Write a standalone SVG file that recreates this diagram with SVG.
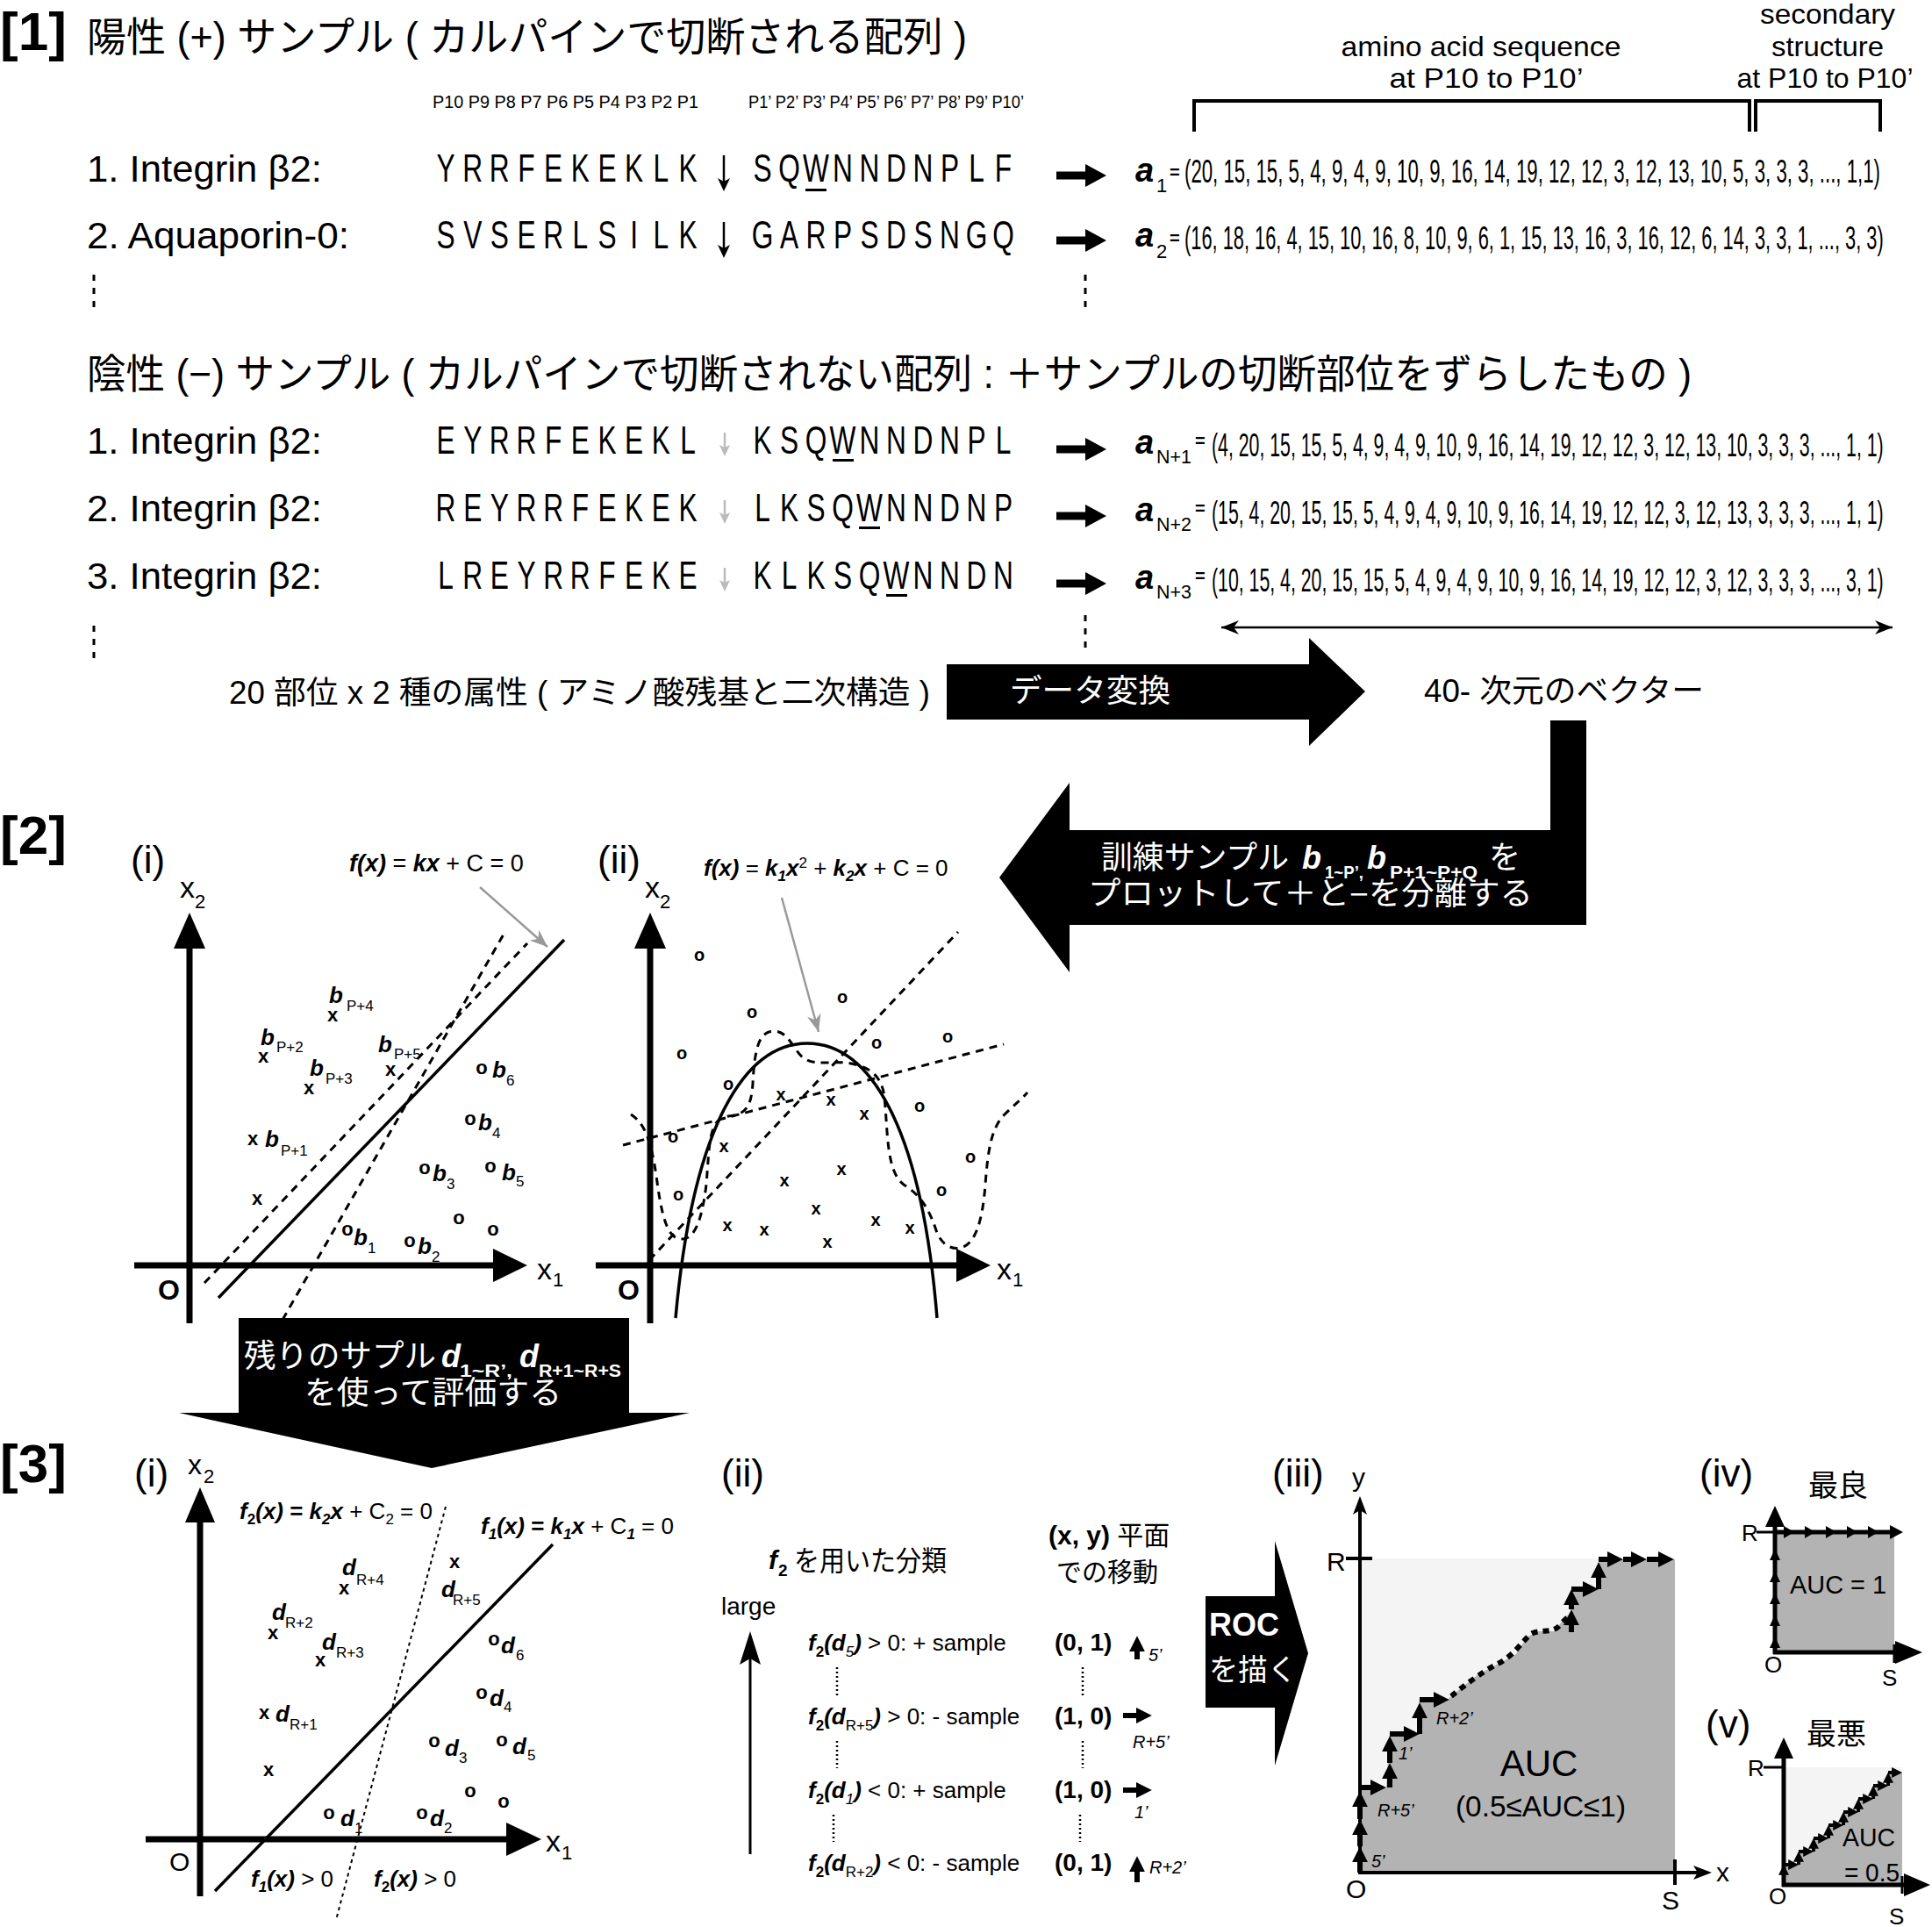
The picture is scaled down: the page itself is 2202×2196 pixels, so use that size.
<svg xmlns="http://www.w3.org/2000/svg" width="2202" height="2196" viewBox="0 0 2202 2196">
<style>
text{font-family:"Liberation Sans","Noto Sans CJK JP",sans-serif;fill:#000}
.b{font-weight:bold}.i{font-style:italic}.bi{font-weight:bold;font-style:italic}
.w{fill:#fff}
.hd{font-weight:bold;font-size:62px}
.pn{font-size:44px}
.row{font-size:42px}
.seq{font-size:44px;text-anchor:middle}
.vec{font-size:36px}
.mk{font-weight:bold;font-size:22px;text-anchor:middle}
.mk2{font-weight:bold;font-size:20px;text-anchor:middle}
.lb{font-weight:bold;font-style:italic;font-size:26px}
.sb{font-size:17px}
.ax{stroke:#000;stroke-width:7;fill:none}
.sl{stroke:#000;stroke-width:3.5;fill:none}
.dl{stroke:#000;stroke-width:3;fill:none;stroke-dasharray:9 7}
.ga{stroke:#999;stroke-width:2.5;fill:none;marker-end:url(#gm)}
.st{stroke:#000;stroke-width:6;fill:none;marker-end:url(#ah)}
.st2{stroke:#000;stroke-width:4;fill:none;marker-end:url(#ah)}
.dots{stroke:#000;stroke-width:3;stroke-dasharray:7 8}
.dt{stroke:#000;stroke-width:2.5;stroke-dasharray:2 3}
</style>
<defs>
<marker id="ah" viewBox="0 0 10 10" refX="4" refY="5" markerWidth="3" markerHeight="3" orient="auto"><path d="M0,0 L10,5 L0,10 z"/></marker>
<marker id="gm" viewBox="0 0 10 10" refX="10" refY="5" markerWidth="8" markerHeight="8" orient="auto"><path d="M0,1 L10,5 L0,9 L3,5 z" fill="#999"/></marker>
<marker id="tm" viewBox="0 0 10 10" refX="10" refY="5" markerWidth="8" markerHeight="8" orient="auto-start-reverse"><path d="M0,1 L10,5 L0,9 L3,5 z"/></marker>
<path id="harrow" d="M0,-4.5 L33,-4.5 L33,-13 L57,0 L33,13 L33,4.5 L0,4.5 Z"/>
</defs>
<rect width="2202" height="2196" fill="#fff"/>

<!-- ===== Section 1 ===== -->
<g id="sec1-header">
<text class="hd" x="0" y="57">[1]</text>
<text x="99" y="58" font-size="46" textLength="1003" lengthAdjust="spacingAndGlyphs">陽性 (+) サンプル ( カルパインで切断される配列 )</text>
<text x="493" y="123" font-size="20" textLength="303" lengthAdjust="spacingAndGlyphs">P10 P9 P8 P7 P6 P5 P4 P3 P2 P1</text>
<text x="853" y="123" font-size="20" textLength="314" lengthAdjust="spacingAndGlyphs">P1’ P2’ P3’ P4’ P5’ P6’ P7’ P8’ P9’ P10’</text>
</g>

<g id="bracket-labels">
<text x="1688" y="64" font-size="32" text-anchor="middle" textLength="319" lengthAdjust="spacingAndGlyphs">amino acid sequence</text>
<text x="1694" y="100" font-size="32" text-anchor="middle" textLength="221" lengthAdjust="spacingAndGlyphs">at P10 to P10’</text>
<text x="2083" y="27" font-size="32" text-anchor="middle" textLength="154" lengthAdjust="spacingAndGlyphs">secondary</text>
<text x="2083" y="64" font-size="32" text-anchor="middle" textLength="128" lengthAdjust="spacingAndGlyphs">structure</text>
<text x="2080" y="100" font-size="32" text-anchor="middle" textLength="201" lengthAdjust="spacingAndGlyphs">at P10 to P10’</text>
<path d="M1361,150 V115 H1994 V150 M2001,150 V115 H2143 V150" stroke="#000" stroke-width="4" fill="none"/>
</g>

<g id="pos-row1">
<text class="row" x="99" y="207" textLength="268" lengthAdjust="spacingAndGlyphs">1. Integrin β2:</text>
<text class="seq" transform="scale(0.72,1)" x="705.6 748.2 790.7 833.3 875.9 918.5 961.1 1003.7 1046.3 1088.9" y="207">YRRFEKEKLK</text>
<text class="seq" transform="scale(0.72,1)" x="1206.9 1249.3 1291.7 1334.0 1376.4 1418.8 1461.1 1503.5 1545.8 1588.2" y="207">SQWNNDNPLF</text>
<rect x="918" y="215" width="24" height="3"/>
<path d="M825,177 V214" stroke="#000" stroke-width="2.5"/><path d="M818,203 L825,218 L832,203 L825,207 Z"/>
<text class="bi" x="1294" y="207" font-size="38">a</text>
<text x="1318" y="219" font-size="22">1</text>
<text class="b" x="1333" y="203" font-size="20">=</text>
<text class="vec" transform="scale(0.62,1)" x="2177.4" y="208" textLength="1279" lengthAdjust="spacingAndGlyphs">(20, 15, 15, 5, 4, 9, 4, 9, 10, 9, 16, 14, 19, 12, 12, 3, 12, 13, 10, 5, 3, 3, 3, ..., 1,1)</text>
</g>

<g id="pos-row2">
<text class="row" x="99" y="283" textLength="299" lengthAdjust="spacingAndGlyphs">2. Aquaporin-0:</text>
<text class="seq" transform="scale(0.72,1)" x="705.6 748.2 790.7 833.3 875.9 918.5 961.1 1003.7 1046.3 1088.9" y="283">SVSERLSILK</text>
<text class="seq" transform="scale(0.72,1)" x="1206.9 1249.3 1291.7 1334.0 1376.4 1418.8 1461.1 1503.5 1545.8 1588.2" y="283">GARPSDSNGQ</text>
<path d="M825,253 V290" stroke="#000" stroke-width="2.5"/><path d="M818,279 L825,294 L832,279 L825,283 Z"/>
<text class="bi" x="1294" y="281" font-size="38">a</text>
<text x="1318" y="294" font-size="22">2</text>
<text class="b" x="1333" y="278" font-size="20">=</text>
<text class="vec" transform="scale(0.62,1)" x="2177.4" y="284" textLength="1285" lengthAdjust="spacingAndGlyphs">(16, 18, 16, 4, 15, 10, 16, 8, 10, 9, 6, 1, 15, 13, 16, 3, 16, 12, 6, 14, 3, 3, 1, ..., 3, 3)</text>
</g>
<line class="dots" x1="107" y1="313" x2="107" y2="351"/>
<line class="dots" x1="1237" y1="313" x2="1237" y2="351"/>

<g id="neg-header">
<text x="99" y="442" font-size="46" textLength="1829" lengthAdjust="spacingAndGlyphs">陰性 (−) サンプル ( カルパインで切断されない配列 : ＋サンプルの切断部位をずらしたもの )</text>
</g>

<g id="neg-row1">
<text class="row" x="99" y="517" textLength="268" lengthAdjust="spacingAndGlyphs">1. Integrin β2:</text>
<text class="seq" transform="scale(0.72,1)" x="705.6 748.2 790.7 833.3 875.9 918.5 961.1 1003.7 1046.3 1088.9" y="517">EYRRFEKEKL</text>
<text class="seq" transform="scale(0.72,1)" x="1206.9 1249.3 1291.7 1334.0 1376.4 1418.8 1461.1 1503.5 1545.8 1588.2" y="517">KSQWNNDNPL</text>
<rect x="949" y="523" width="24" height="3"/>
<path d="M826,493 V516" stroke="#bbb" stroke-width="2.5"/><path d="M820,507 L826,520 L832,507 L826,510 Z" fill="#bbb"/>
<text class="bi" x="1294" y="517" font-size="38">a</text>
<text x="1318" y="528" font-size="22" textLength="40" lengthAdjust="spacingAndGlyphs">N+1</text>
<text class="b" x="1362" y="509" font-size="20">=</text>
<text class="vec" transform="scale(0.62,1)" x="2227.4" y="520" textLength="1235" lengthAdjust="spacingAndGlyphs">(4, 20, 15, 15, 5, 4, 9, 4, 9, 10, 9, 16, 14, 19, 12, 12, 3, 12, 13, 10, 3, 3, 3, ..., 1, 1)</text>
</g>

<g id="neg-row2">
<text class="row" x="99" y="594" textLength="268" lengthAdjust="spacingAndGlyphs">2. Integrin β2:</text>
<text class="seq" transform="scale(0.72,1)" x="705.6 748.2 790.7 833.3 875.9 918.5 961.1 1003.7 1046.3 1088.9" y="594">REYRRFEKEK</text>
<text class="seq" transform="scale(0.72,1)" x="1206.9 1249.3 1291.7 1334.0 1376.4 1418.8 1461.1 1503.5 1545.8 1588.2" y="594">LKSQWNNDNP</text>
<rect x="979" y="600" width="24" height="3"/>
<path d="M826,570 V593" stroke="#bbb" stroke-width="2.5"/><path d="M820,584 L826,597 L832,584 L826,587 Z" fill="#bbb"/>
<text class="bi" x="1294" y="594" font-size="38">a</text>
<text x="1318" y="605" font-size="22" textLength="40" lengthAdjust="spacingAndGlyphs">N+2</text>
<text class="b" x="1362" y="586" font-size="20">=</text>
<text class="vec" transform="scale(0.62,1)" x="2227.4" y="597" textLength="1235" lengthAdjust="spacingAndGlyphs">(15, 4, 20, 15, 15, 5, 4, 9, 4, 9, 10, 9, 16, 14, 19, 12, 12, 3, 12, 13, 3, 3, 3, ..., 1, 1)</text>
</g>

<g id="neg-row3">
<text class="row" x="99" y="671" textLength="268" lengthAdjust="spacingAndGlyphs">3. Integrin β2:</text>
<text class="seq" transform="scale(0.72,1)" x="705.6 748.2 790.7 833.3 875.9 918.5 961.1 1003.7 1046.3 1088.9" y="671">LREYRRFEKE</text>
<text class="seq" transform="scale(0.72,1)" x="1206.9 1249.3 1291.7 1334.0 1376.4 1418.8 1461.1 1503.5 1545.8 1588.2" y="671">KLKSQWNNDN</text>
<rect x="1010" y="677" width="24" height="3"/>
<path d="M826,647 V670" stroke="#bbb" stroke-width="2.5"/><path d="M820,661 L826,674 L832,661 L826,664 Z" fill="#bbb"/>
<text class="bi" x="1294" y="671" font-size="38">a</text>
<text x="1318" y="682" font-size="22" textLength="40" lengthAdjust="spacingAndGlyphs">N+3</text>
<text class="b" x="1362" y="663" font-size="20">=</text>
<text class="vec" transform="scale(0.62,1)" x="2227.4" y="674" textLength="1235" lengthAdjust="spacingAndGlyphs">(10, 15, 4, 20, 15, 15, 5, 4, 9, 4, 9, 10, 9, 16, 14, 19, 12, 12, 3, 12, 3, 3, 3, ..., 3, 1)</text>
</g>
<line class="dots" x1="107" y1="713" x2="107" y2="751"/>
<line class="dots" x1="1237" y1="701" x2="1237" y2="739"/>

<g id="attr-text">
<text x="261" y="802" font-size="36" textLength="799" lengthAdjust="spacingAndGlyphs">20 部位 x 2 種の属性 ( アミノ酸残基と二次構造 )</text>
</g>
<g id="vec40-text">
<text x="1623" y="800" font-size="36" textLength="319" lengthAdjust="spacingAndGlyphs">40- 次元のベクター</text>
</g>

<!-- block arrows -->
<g id="arrow-transform">
<polygon points="1079,757 1492,757 1492,727 1556,788 1492,850 1492,820 1079,820"/>
<text class="w" x="1151" y="800" font-size="36" textLength="183" lengthAdjust="spacingAndGlyphs">データ変換</text>
</g>
<g id="arrow-train">
<polygon points="1767,821 1808,821 1808,1054 1219,1054 1219,1108 1139,1000 1219,892 1219,946 1767,946"/>
<text class="w" x="1255" y="990" font-size="36" textLength="214" lengthAdjust="spacingAndGlyphs">訓練サンプル</text>
<text class="w bi" x="1484" y="990" font-size="36">b</text>
<text class="w b" x="1510" y="1001" font-size="20" textLength="44" lengthAdjust="spacingAndGlyphs">1~P’,</text>
<text class="w bi" x="1558" y="990" font-size="36">b</text>
<text class="w b" x="1584" y="1001" font-size="20" textLength="100" lengthAdjust="spacingAndGlyphs">P+1~P+Q</text>
<text class="w" x="1697" y="990" font-size="36">を</text>
<text class="w" x="1240" y="1031" font-size="36" textLength="507" lengthAdjust="spacingAndGlyphs">プロットして＋と−を分離する</text>
</g>

<!-- ===== Section 2 ===== -->
<g id="sec2-header"><text class="hd" x="0" y="973">[2]</text></g>

<g id="plot2-i">
<text class="pn" x="149" y="995">(i)</text>
<text x="205" y="1023" font-size="34">x</text><text x="222" y="1035" font-size="22">2</text>
<text x="612" y="1458" font-size="34">x</text><text x="630" y="1466" font-size="22">1</text>
<text class="b" x="180" y="1481" font-size="32">O</text>
<line class="ax" x1="216" y1="1508" x2="216" y2="1076"/>
<polygon points="216,1040 234,1081 198,1081"/>
<line class="ax" x1="153" y1="1442" x2="565" y2="1442"/>
<polygon points="601,1442 562,1423 562,1461"/>
<line class="sl" x1="249" y1="1479" x2="643" y2="1071"/>
<line class="dl" x1="233" y1="1462" x2="601" y2="1075"/>
<line class="dl" x1="322" y1="1504" x2="575" y2="1063"/>
<text x="398" y="993" font-size="27"><tspan class="bi">f(x)</tspan> = <tspan class="bi">kx</tspan> + C = 0</text>
<line class="ga" x1="547" y1="1011" x2="624" y2="1079"/>
<g class="mk">
<text x="379" y="1164">x</text><text x="300" y="1211">x</text><text x="352" y="1247">x</text><text x="445" y="1226">x</text><text x="288" y="1305">x</text><text x="293" y="1373">x</text>
<text x="549" y="1224">o</text><text x="536" y="1282">o</text><text x="484" y="1338">o</text><text x="559" y="1336">o</text><text x="523" y="1395">o</text><text x="562" y="1408">o</text><text x="396" y="1408">o</text><text x="467" y="1421">o</text>
</g>
<g class="lb">
<text x="375" y="1143">b</text><text x="297" y="1191">b</text><text x="353" y="1226">b</text><text x="431" y="1199">b</text><text x="302" y="1307">b</text>
<text x="561" y="1228">b</text><text x="545" y="1288">b</text><text x="493" y="1346">b</text><text x="572" y="1345">b</text><text x="403" y="1419">b</text><text x="476" y="1429">b</text>
</g>
<g class="sb">
<text x="395" y="1152">P+4</text><text x="315" y="1199">P+2</text><text x="371" y="1235">P+3</text><text x="449" y="1207">P+5</text><text x="320" y="1317">P+1</text>
<text x="577" y="1237">6</text><text x="561" y="1297">4</text><text x="509" y="1355">3</text><text x="588" y="1352">5</text><text x="419" y="1428">1</text><text x="492" y="1438">2</text>
</g>
</g>

<g id="plot2-ii">
<text class="pn" x="681" y="995">(ii)</text>
<text x="735" y="1023" font-size="34">x</text><text x="752" y="1035" font-size="22">2</text>
<text x="1136" y="1458" font-size="34">x</text><text x="1154" y="1466" font-size="22">1</text>
<text class="b" x="704" y="1481" font-size="32">O</text>
<line class="ax" x1="741" y1="1508" x2="741" y2="1076"/>
<polygon points="741,1040 759,1081 723,1081"/>
<line class="ax" x1="679" y1="1442" x2="1093" y2="1442"/>
<polygon points="1129,1442 1090,1423 1090,1461"/>
<path class="sl" d="M770,1502 C790,1280 850,1189 920,1189 C990,1189 1050,1280 1068,1502"/>
<line class="dl" x1="740" y1="1436" x2="1092" y2="1062"/>
<line class="dl" x1="710" y1="1305" x2="1144" y2="1190"/>
<path class="dl" d="M719,1270 C735,1280 742,1300 748,1340 C754,1385 760,1410 775,1412 C792,1414 800,1390 805,1350 C809,1300 808,1275 830,1272 C850,1270 856,1262 858,1235 C860,1195 865,1175 882,1175 C900,1175 905,1200 918,1207 C932,1215 950,1208 970,1212 C990,1216 1005,1225 1008,1250 C1012,1290 1010,1335 1030,1350 C1050,1362 1060,1380 1068,1405 C1075,1420 1085,1424 1095,1422 C1112,1418 1120,1390 1123,1350 C1126,1310 1130,1285 1145,1270 C1155,1260 1165,1252 1171,1245"/>
<text x="802" y="998" font-size="26"><tspan class="bi">f(x)</tspan> = <tspan class="bi">k</tspan><tspan class="bi" font-size="17" dy="6">1</tspan><tspan class="bi" dy="-6">x</tspan><tspan font-size="17" dy="-9">2</tspan><tspan dy="9"> + </tspan><tspan class="bi">k</tspan><tspan class="bi" font-size="17" dy="6">2</tspan><tspan class="bi" dy="-6">x</tspan> + C = 0</text>
<line class="ga" x1="891" y1="1023" x2="933" y2="1176"/>
<g class="mk2">
<text x="797" y="1095">o</text><text x="960" y="1143">o</text><text x="857" y="1160">o</text><text x="1080" y="1188">o</text><text x="999" y="1195">o</text><text x="777" y="1207">o</text><text x="830" y="1242">o</text><text x="1048" y="1267">o</text><text x="767" y="1302">o</text><text x="1106" y="1325">o</text><text x="1073" y="1363">o</text><text x="773" y="1368">o</text>
<text x="890" y="1254">x</text><text x="947" y="1260">x</text><text x="985" y="1276">x</text><text x="825" y="1313">x</text><text x="959" y="1339">x</text><text x="894" y="1352">x</text><text x="930" y="1384">x</text><text x="998" y="1397">x</text><text x="1037" y="1406">x</text><text x="829" y="1403">x</text><text x="871" y="1408">x</text><text x="943" y="1422">x</text>
</g>
</g>

<g id="arrow-eval">
<polygon points="272,1502 717,1502 717,1610 786,1610 492,1673 204,1610 272,1610"/>
<text class="w" x="278" y="1558" font-size="36" textLength="219" lengthAdjust="spacingAndGlyphs">残りのサプル</text>
<text class="w bi" x="503" y="1558" font-size="36">d</text>
<text class="w b" x="524" y="1569" font-size="20" textLength="60" lengthAdjust="spacingAndGlyphs">1~R’,</text>
<text class="w bi" x="592" y="1558" font-size="36">d</text>
<text class="w b" x="614" y="1569" font-size="20" textLength="94" lengthAdjust="spacingAndGlyphs">R+1~R+S</text>
<text class="w" x="347" y="1600" font-size="36" textLength="293" lengthAdjust="spacingAndGlyphs">を使って評価する</text>
</g>

<!-- ===== Section 3 ===== -->
<g id="sec3-header"><text class="hd" x="0" y="1689">[3]</text></g>

<g id="plot3-i">
<text class="pn" x="153" y="1694">(i)</text>
<text x="214" y="1680" font-size="32">x</text><text x="232" y="1690" font-size="22">2</text>
<text x="622" y="2110" font-size="34">x</text><text x="640" y="2119" font-size="22">1</text>
<text x="193" y="2132" font-size="30">O</text>
<line class="ax" x1="228" y1="2161" x2="228" y2="1730"/>
<polygon points="228,1695 245,1735 211,1735"/>
<line class="ax" x1="166" y1="2096" x2="580" y2="2096"/>
<polygon points="617,2096 577,2077 577,2115"/>
<line class="sl" x1="245" y1="2155" x2="630" y2="1760"/>
<line x1="508" y1="1717" x2="383" y2="2188" stroke="#000" stroke-width="2" stroke-dasharray="4 4"/>
<text x="273" y="1731" font-size="26"><tspan class="bi">f</tspan><tspan class="b" font-size="17" dy="6">2</tspan><tspan class="bi" dy="-6">(x)</tspan><tspan class="b"> = </tspan><tspan class="bi">k</tspan><tspan class="bi" font-size="17" dy="6">2</tspan><tspan class="bi" dy="-6">x</tspan> + C<tspan font-size="17" dy="6">2</tspan><tspan dy="-6"> = 0</tspan></text>
<text x="548" y="1748" font-size="26"><tspan class="bi">f</tspan><tspan class="bi" font-size="17" dy="6">1</tspan><tspan class="bi" dy="-6">(x)</tspan><tspan class="b"> = </tspan><tspan class="bi">k</tspan><tspan class="bi" font-size="17" dy="6">1</tspan><tspan class="bi" dy="-6">x</tspan> + C<tspan class="bi" font-size="17" dy="6">1</tspan><tspan dy="-6"> = 0</tspan></text>
<text x="286" y="2150" font-size="26"><tspan class="bi">f</tspan><tspan class="bi" font-size="17" dy="6">1</tspan><tspan class="bi" dy="-6">(x)</tspan> &gt; 0</text>
<text x="426" y="2150" font-size="26"><tspan class="bi">f</tspan><tspan class="b" font-size="17" dy="6">2</tspan><tspan class="bi" dy="-6">(x)</tspan> &gt; 0</text>
<g class="mk">
<text x="392" y="1817">x</text><text x="311" y="1868">x</text><text x="365" y="1899">x</text><text x="518" y="1787">x</text><text x="301" y="1959">x</text><text x="306" y="2024">x</text>
<text x="563" y="1875">o</text><text x="549" y="1936">o</text><text x="495" y="1991">o</text><text x="572" y="1990">o</text><text x="536" y="2048">o</text><text x="574" y="2060">o</text><text x="375" y="2073">o</text><text x="481" y="2073">o</text>
</g>
<g class="lb">
<text x="390" y="1795">d</text><text x="310" y="1846">d</text><text x="367" y="1880">d</text><text x="503" y="1820">d</text><text x="314" y="1962">d</text>
<text x="571" y="1884">d</text><text x="558" y="1944">d</text><text x="507" y="2001">d</text><text x="584" y="1999">d</text><text x="388" y="2081">d</text><text x="490" y="2081">d</text>
</g>
<g class="sb">
<text x="406" y="1806">R+4</text><text x="325" y="1855">R+2</text><text x="383" y="1889">R+3</text><text x="516" y="1829">R+5</text><text x="330" y="1971">R+1</text>
<text x="588" y="1892">6</text><text x="574" y="1951">4</text><text x="523" y="2009">3</text><text x="601" y="2006">5</text><text x="404" y="2089">1</text><text x="506" y="2089">2</text>
</g>
</g>

<g id="panel3-ii">
<text class="pn" x="822" y="1694">(ii)</text>
<text class="bi" x="876" y="1788" font-size="30">f</text><text class="b" x="887" y="1796" font-size="19">2</text>
<text x="905" y="1790" font-size="32" textLength="174" lengthAdjust="spacingAndGlyphs">を用いた分類</text>
<text x="1195" y="1760" font-size="30"><tspan class="b">(x, y)</tspan> 平面</text>
<text x="1204" y="1802" font-size="30" textLength="116" lengthAdjust="spacingAndGlyphs">での移動</text>
<text x="822" y="1840" font-size="28">large</text>
<line x1="855" y1="2113" x2="855" y2="1885" stroke="#000" stroke-width="3"/>
<polygon points="855,1859 867,1897 855,1890 843,1897"/>
<text x="921" y="1881" font-size="26"><tspan class="bi">f</tspan><tspan class="b" font-size="17" dy="7">2</tspan><tspan class="bi" dy="-7">(d</tspan><tspan class="i" font-size="17" dy="7">5</tspan><tspan class="bi" dy="-7">)</tspan> &gt; 0: + sample</text>
<text x="921" y="1965" font-size="26"><tspan class="bi">f</tspan><tspan class="b" font-size="17" dy="7">2</tspan><tspan class="bi" dy="-7">(d</tspan><tspan font-size="17" dy="7">R+5</tspan><tspan class="bi" dy="-7">)</tspan> &gt; 0: - sample</text>
<text x="921" y="2049" font-size="26"><tspan class="bi">f</tspan><tspan class="b" font-size="17" dy="7">2</tspan><tspan class="bi" dy="-7">(d</tspan><tspan class="i" font-size="17" dy="7">1</tspan><tspan class="bi" dy="-7">)</tspan> &lt; 0: + sample</text>
<text x="921" y="2132" font-size="26"><tspan class="bi">f</tspan><tspan class="b" font-size="17" dy="7">2</tspan><tspan class="bi" dy="-7">(d</tspan><tspan font-size="17" dy="7">R+2</tspan><tspan class="bi" dy="-7">)</tspan> &lt; 0: - sample</text>
<g class="b" font-size="28">
<text x="1202" y="1881">(0, 1)</text>
<text x="1202" y="1965">(1, 0)</text>
<text x="1202" y="2049">(1, 0)</text>
<text x="1202" y="2132">(0, 1)</text>
</g>
<line class="dt" x1="954" y1="1900" x2="954" y2="1932"/><line class="dt" x1="1234" y1="1900" x2="1234" y2="1932"/>
<line class="dt" x1="954" y1="1984" x2="954" y2="2015"/><line class="dt" x1="1234" y1="1984" x2="1234" y2="2015"/>
<line class="dt" x1="950" y1="2068" x2="950" y2="2099"/><line class="dt" x1="1231" y1="2068" x2="1231" y2="2099"/>
<line class="st" x1="1296" y1="1891" x2="1296" y2="1875"/>
<line class="st" x1="1280" y1="1955" x2="1302" y2="1955"/>
<line class="st" x1="1280" y1="2040" x2="1302" y2="2040"/>
<line class="st" x1="1296" y1="2145" x2="1296" y2="2126"/>
<g class="i" font-size="20">
<text x="1309" y="1893">5’</text><text x="1291" y="1992">R+5’</text><text x="1293" y="2072">1’</text><text x="1310" y="2135">R+2’</text>
</g>
</g>

<g id="arrow-roc">
<polygon points="1374,1819 1453,1819 1453,1756 1491,1884 1453,2012 1453,1946 1374,1946"/>
<text class="w b" x="1378" y="1864" font-size="36">ROC</text>
<text class="w" x="1378" y="1915" font-size="34" textLength="100" lengthAdjust="spacingAndGlyphs">を描く</text>
</g>

<g id="plot3-iii">
<text class="pn" x="1450" y="1694">(iii)</text>
<rect x="1550" y="1776" width="359" height="358" fill="#f4f4f4"/>
<polygon fill="#b3b3b3" points="1550,2134 1550,2037 1580,2037 1584,1976 1615,1976 1618,1937 1650,1937 1656,1931 1685,1908 1704,1898 1728,1885 1740,1866 1752,1859 1771,1859 1781,1847 1791,1836 1791,1811 1822,1811 1822,1777 1909,1777 1909,2134"/>
<line x1="1550" y1="2136" x2="1550" y2="1718" stroke="#000" stroke-width="4"/>
<polygon points="1550,1705 1558,1726 1550,1721 1542,1726"/>
<line x1="1550" y1="2134" x2="1938" y2="2134" stroke="#000" stroke-width="4"/>
<polygon points="1951,2134 1930,2126 1935,2134 1930,2142"/>
<line x1="1534" y1="1776" x2="1564" y2="1776" stroke="#000" stroke-width="4"/>
<line x1="1909" y1="2119" x2="1909" y2="2148" stroke="#000" stroke-width="4"/>
<text x="1512" y="1790" font-size="30">R</text>
<text x="1534" y="2163" font-size="30">O</text>
<text x="1894" y="2176" font-size="30">S</text>
<text x="1956" y="2144" font-size="30">x</text>
<text x="1541" y="1694" font-size="30">y</text>
<line class="st" x1="1550" y1="2134" x2="1550" y2="2115"/>
<line class="st" x1="1550" y1="2104" x2="1550" y2="2084"/>
<line class="st" x1="1550" y1="2073" x2="1550" y2="2052"/>
<line class="st" x1="1550" y1="2037" x2="1569" y2="2037"/>
<line class="st" x1="1584" y1="2037" x2="1584" y2="2020"/>
<line class="st" x1="1584" y1="2009" x2="1584" y2="1989"/>
<line class="st" x1="1584" y1="1976" x2="1607" y2="1976"/>
<line class="st" x1="1618" y1="1976" x2="1618" y2="1951"/>
<line class="st" x1="1618" y1="1937" x2="1641" y2="1937"/>
<path d="M1654,1933 C1670,1920 1690,1905 1705,1897 C1725,1888 1735,1870 1745,1862 C1755,1856 1770,1862 1778,1852 C1784,1845 1788,1842 1791,1840" stroke="#000" stroke-width="6" fill="none" stroke-dasharray="7 6"/>
<line class="st" x1="1791" y1="1860" x2="1791" y2="1845"/>
<line class="st" x1="1791" y1="1834" x2="1791" y2="1822"/>
<line class="st" x1="1791" y1="1811" x2="1811" y2="1811"/>
<line class="st" x1="1822" y1="1811" x2="1822" y2="1791"/>
<line class="st" x1="1822" y1="1777" x2="1839" y2="1777"/>
<line class="st" x1="1850" y1="1777" x2="1866" y2="1777"/>
<line class="st" x1="1877" y1="1777" x2="1897" y2="1777"/>
<g class="i" font-size="20">
<text x="1563" y="2128">5’</text><text x="1570" y="2070">R+5’</text><text x="1594" y="2005">1’</text><text x="1637" y="1965">R+2’</text>
</g>
<text x="1754" y="2024" font-size="42" text-anchor="middle">AUC</text>
<text x="1756" y="2070" font-size="34" text-anchor="middle" textLength="194" lengthAdjust="spacingAndGlyphs">(0.5≤AUC≤1)</text>
</g>

<g id="plot3-iv">
<text class="pn" x="1937" y="1694">(iv)</text>
<text x="2061" y="1705" font-size="34">最良</text>
<rect x="2023" y="1746" width="136" height="137" fill="#b3b3b3"/>
<line x1="2023" y1="1885" x2="2023" y2="1730" stroke="#000" stroke-width="5"/>
<polygon points="2023,1716 2034,1740 2012,1740"/>
<line x1="2021" y1="1883" x2="2168" y2="1883" stroke="#000" stroke-width="5"/>
<polygon points="2191,1883 2160,1870 2160,1896"/>
<line x1="2002" y1="1746" x2="2023" y2="1746" stroke="#000" stroke-width="3"/>
<line x1="2159" y1="1874" x2="2159" y2="1895" stroke="#000" stroke-width="3"/>
<g>
<polygon points="2023,1865 2029,1878 2017,1878"/><polygon points="2023,1840 2029,1853 2017,1853"/><polygon points="2023,1815 2029,1828 2017,1828"/><polygon points="2023,1790 2029,1803 2017,1803"/><polygon points="2023,1765 2029,1778 2017,1778"/>
</g>
<line x1="2023" y1="1746" x2="2156" y2="1746" stroke="#000" stroke-width="5"/>
<g>
<polygon points="2045,1746 2033,1739 2033,1753"/><polygon points="2069,1746 2057,1739 2057,1753"/><polygon points="2093,1746 2081,1739 2081,1753"/><polygon points="2117,1746 2105,1739 2105,1753"/><polygon points="2141,1746 2129,1739 2129,1753"/><polygon points="2169,1746 2154,1738 2154,1754"/>
</g>
<text x="1985" y="1756" font-size="26">R</text>
<text x="2011" y="1906" font-size="26">O</text>
<text x="2145" y="1921" font-size="26">S</text>
<text x="2040" y="1816" font-size="30" textLength="110" lengthAdjust="spacingAndGlyphs">AUC = 1</text>
</g>

<g id="plot3-v">
<text class="pn" x="1944" y="1980">(v)</text>
<text x="2059" y="1988" font-size="34">最悪</text>
<rect x="2033" y="2014" width="135" height="134" fill="#f4f4f4"/>
<polygon fill="#b3b3b3" points="2033,2148 2033,2140 2033,2125 2050,2125 2050,2110 2067,2110 2067,2095 2084,2095 2084,2080 2101,2080 2101,2065 2118,2065 2118,2050 2135,2050 2135,2035 2152,2035 2152,2020 2168,2020 2168,2148"/>
<line x1="2033" y1="2150" x2="2033" y2="1995" stroke="#000" stroke-width="5"/>
<polygon points="2033,1980 2044,2004 2022,2004"/>
<line x1="2031" y1="2148" x2="2175" y2="2148" stroke="#000" stroke-width="5"/>
<polygon points="2200,2148 2170,2135 2170,2161"/>
<line x1="2010" y1="2014" x2="2033" y2="2014" stroke="#000" stroke-width="3"/>
<line x1="2168" y1="2138" x2="2168" y2="2158" stroke="#000" stroke-width="3"/>
<g>
<line class="st2" x1="2033" y1="2140" x2="2033" y2="2132"/>
<line class="st2" x1="2033" y1="2125" x2="2043" y2="2125"/>
<line class="st2" x1="2050" y1="2125" x2="2050" y2="2117"/>
<line class="st2" x1="2050" y1="2110" x2="2060" y2="2110"/>
<line class="st2" x1="2067" y1="2110" x2="2067" y2="2102"/>
<line class="st2" x1="2067" y1="2095" x2="2077" y2="2095"/>
<line class="st2" x1="2084" y1="2095" x2="2084" y2="2087"/>
<line class="st2" x1="2084" y1="2080" x2="2094" y2="2080"/>
<line class="st2" x1="2101" y1="2080" x2="2101" y2="2072"/>
<line class="st2" x1="2101" y1="2065" x2="2111" y2="2065"/>
<line class="st2" x1="2118" y1="2065" x2="2118" y2="2057"/>
<line class="st2" x1="2118" y1="2050" x2="2128" y2="2050"/>
<line class="st2" x1="2135" y1="2050" x2="2135" y2="2042"/>
<line class="st2" x1="2135" y1="2035" x2="2145" y2="2035"/>
<line class="st2" x1="2152" y1="2035" x2="2152" y2="2027"/>
<line class="st2" x1="2152" y1="2020" x2="2161" y2="2020"/>
</g>
<text x="1992" y="2024" font-size="26">R</text>
<text x="2016" y="2170" font-size="26">O</text>
<text x="2153" y="2193" font-size="26">S</text>
<text x="2100" y="2104" font-size="30" textLength="60" lengthAdjust="spacingAndGlyphs">AUC</text>
<text x="2102" y="2144" font-size="30" textLength="63" lengthAdjust="spacingAndGlyphs">= 0.5</text>
</g>

<!-- connectors -->
<g id="connectors">
<use href="#harrow" transform="translate(1204,200)"/>
<use href="#harrow" transform="translate(1204,274)"/>
<use href="#harrow" transform="translate(1204,512)"/>
<use href="#harrow" transform="translate(1204,588)"/>
<use href="#harrow" transform="translate(1204,665)"/>
<line x1="1392" y1="715" x2="2157" y2="715" stroke="#000" stroke-width="2.5" marker-start="url(#tm)" marker-end="url(#tm)"/>
</g>
</svg>
